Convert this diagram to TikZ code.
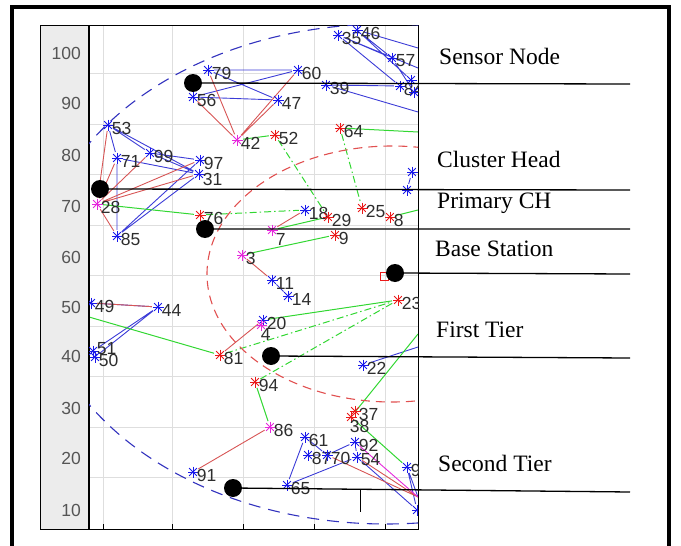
\documentclass[tikz,border=0pt]{standalone}
\usepackage{fontspec}
\setmainfont{Liberation Serif}
\setsansfont{Liberation Sans}
\usetikzlibrary{calc}
\pgfdeclarelayer{gridlayer}
\pgfdeclarelayer{links}
\pgfsetlayers{gridlayer,links,main}
\definecolor{mblue}{RGB}{25,25,235}
\definecolor{lblue}{RGB}{60,60,215}
\definecolor{mred}{RGB}{235,25,25}
\definecolor{lred}{RGB}{215,85,85}
\definecolor{mgreen}{RGB}{50,215,50}
\definecolor{mmag}{RGB}{230,40,220}
\definecolor{panelc}{RGB}{236,236,236}
\definecolor{gridc}{RGB}{222,222,222}
\definecolor{labc}{RGB}{45,45,45}
\definecolor{tickc}{RGB}{85,85,85}
\definecolor{ellred}{RGB}{225,80,80}
\definecolor{ellblue}{RGB}{50,50,190}
\tikzset{
  ast/.style={circle, inner sep=0pt, minimum size=12pt,
    path picture={\foreach \a in {0,45,90,135}{\draw[#1,line width=1pt]
      ($(path picture bounding box.center)+(\a:5.5pt)$) -- ($(path picture bounding box.center)+(\a+180:5.5pt)$);}}},
  bn/.style={ast=mblue}, rn/.style={ast=mred}, mn/.style={ast=mmag},
  lb/.style={font=\sffamily\fontsize{17.5}{17.5}\selectfont, text=labc, inner sep=0pt, xshift=-2.5pt, yshift=-3pt},
  bl/.style={lblue, line width=0.9pt},
  rl/.style={lred, line width=0.9pt},
  ml/.style={mmag, line width=0.9pt},
  gl/.style={mgreen, line width=1pt},
  gd/.style={mgreen, line width=1pt, dash pattern=on 7pt off 3pt on 1.5pt off 3pt},
  lg/.style={black, line width=1.3pt},
  bdot/.style={circle, fill=black, minimum size=18pt, inner sep=0pt},
  lt/.style={font=\fontsize{23.5}{26}\selectfont, anchor=base west, inner sep=0pt},
  tl/.style={font=\sffamily\fontsize{17.5}{17.5}\selectfont, text=tickc, anchor=east, inner sep=0pt},
}
\begin{document}
\begin{tikzpicture}[x=1pt,y=-1pt]
\useasboundingbox (0,0) rectangle (681,546);
% outer frame
\draw[line width=3.5pt] (12,546) -- (12,7) -- (669,7) -- (669,546);
% tick panel
\fill[panelc] (40,25) rectangle (89,529);
% grid
\begin{pgfonlayer}{gridlayer}
\foreach \yy in {73.5,124,174.5,225,275.5,326,376.5,427,477.5}
  \draw[gridc, line width=0.7pt] (89,\yy) -- (418,\yy);
\foreach \xx in {103,172,243,314,385}
  \draw[gridc, line width=0.7pt] (\xx,25) -- (\xx,529);
\end{pgfonlayer}
% plot frame
\draw[line width=0.8pt] (40,25) rectangle (418,529);
\draw[line width=1.2pt] (89,25) -- (89,529);
\foreach \xx in {103,172,243,314,385}
  \draw[line width=0.7pt] (\xx,529) -- (\xx,524);
% tick labels
\foreach \v/\yy in {100/53,90/103,80/155,70/206,60/257,50/307,40/356,30/408,20/458,10/510}
  \node[tl] at (81,\yy) {\v};
% ellipses
\begin{scope}
\clip (89,25) rectangle (418,529);
\draw[ellblue, line width=1.1pt, dash pattern=on 12pt off 8pt] (386,274) ellipse (348 and 250);
\draw[ellred, line width=1.1pt, dash pattern=on 9pt off 6pt] (392,274) ellipse (185 and 128);
\end{scope}
% free ends
\coordinate (e1) at (418,48);
\coordinate (e2) at (418,68);
\coordinate (e3) at (418,112);
\coordinate (e4) at (418,497);
\coordinate (e5) at (418,347);
\coordinate (e6) at (418,132);
\coordinate (e7) at (418,210);
\coordinate (e8) at (89,317);
\coordinate (e9) at (418,334);
% sensor nodes
\begin{scope}
\clip (89,25) rectangle (418,529);
\node[bn, label={[lb]0:35}] (n35) at (338,35) {};
\node[bn, label={[lb]0:46}] (n46) at (357,30) {};
\node[bn, label={[lb]0:57}] (n57) at (392,58) {};
\node[bn, label={[lb]0:39}] (n39) at (326,85) {};
\node[bn, label={[lb]0:84}] (n84) at (400,86) {};
\node[bn] (n96) at (411,80) {};
\node[bn] (nrc) at (414,92) {};
\node[bn, label={[lb]0:60}] (n60) at (298,70) {};
\node[bn, label={[lb]0:79}] (n79) at (208,70) {};
\node[bn, label={[lb]0:56}] (n56) at (193,97) {};
\node[bn, label={[lb]0:47}] (n47) at (278,100) {};
\node[bn, label={[lb]0:53}] (n53) at (108,125) {};
\node[bn, label={[lb]0:71}] (n71) at (117,158) {};
\node[bn, label={[lb]0:99}] (n99) at (150,153) {};
\node[bn, label={[lb]0:97}] (n97) at (200,160) {};
\node[bn, label={[lb, yshift=-2pt]0:31}] (n31) at (199,174) {};
\node[bn, label={[lb]0:85}] (n85) at (117,236) {};
\node[bn, label={[lb]0:18}] (n18) at (305,210) {};
\node[bn] (nra) at (412,172) {};
\node[bn] (nrb) at (407,190) {};
\node[bn, label={[lb]0:11}] (n11) at (272,280) {};
\node[bn, label={[lb]0:14}] (n14) at (288,296) {};
\node[bn, label={[lb]0:20}] (n20) at (263,320) {};
\node[bn, label={[lb]0:49}] (n49) at (91,303) {};
\node[bn, label={[lb]0:44}] (n44) at (158,307) {};
\node[bn, label={[lb, yshift=5pt]0:51}] (n51) at (93,351) {};
\node[bn, label={[lb]0:50}] (n50) at (95,357) {};
\node[bn, label={[lb]0:22}] (n22) at (363,365) {};
\node[bn, label={[lb]0:61}] (n61) at (305,437) {};
\node[bn, label={[lb]0:92}] (n92) at (355,442) {};
\node[bn, label={[lb]0:87}] (n87) at (308,455) {};
\node[bn, label={[lb]0:70}] (n70) at (327,455) {};
\node[bn, label={[lb]0:54}] (n54) at (357,457) {};
\node[bn, label={[lb]0:65}] (n65) at (287,485) {};
\node[bn, label={[lb]0:91}] (n91) at (193,472) {};
\node[bn, label={[lb]0:9}] (n9b) at (407,467) {};
\node[bn] (ncs) at (417,510) {};
% cluster heads
\node[rn, label={[lb]0:52}] (n52) at (275,135) {};
\node[rn, label={[lb]0:64}] (n64) at (340,128) {};
\node[rn, label={[lb]0:76}] (n76) at (200,215) {};
\node[rn, label={[lb]0:29}] (n29) at (328,217) {};
\node[rn, label={[lb]0:25}] (n25) at (362,208) {};
\node[rn, label={[lb]0:8}] (n8) at (390,217) {};
\node[rn, label={[lb]0:9}] (n9) at (335,235) {};
\node[rn, label={[lb]0:23}] (n23) at (398,300) {};
\node[rn, label={[lb]0:81}] (n81) at (220,355) {};
\node[rn, label={[lb]0:94}] (n94) at (255,382) {};
\node[rn, label={[lb]0:37}] (n37) at (355,411) {};
\node[rn, label={[lb, yshift=-6pt, xshift=-5pt]0:38}] (n38) at (351,417) {};
% primary cluster heads
\node[mn, label={[lb]0:42}] (n42) at (237,140) {};
\node[mn, label={[lb]0:28}] (n28) at (97,204) {};
\node[mn, label={[lb, yshift=-6pt]0:7}] (n7) at (272,230) {};
\node[mn, label={[lb]0:3}] (n3) at (242,255) {};
\node[mn, label={[lb]0:86}] (n86) at (270,427) {};
\node[mn, label={[lb, yshift=-6pt, xshift=-4pt]0:4}] (n4) at (261,325) {};
% base station
\node[draw=mred, minimum size=8pt, inner sep=0pt, line width=0.9pt] (bs) at (384,276) {};
\end{scope}
% links
\begin{pgfonlayer}{links}
\begin{scope}
\clip (89,25) rectangle (418,529);
\draw[bl] (n53)--(n71) (n53)--(n99) (n53)--(n31) (n71)--(n85) (n71)--(n31)
  (n99)--(n97) (n99)--(n31) (n85)--(n97) (n85)--(n31)
  (n79)--(n60) (n56)--(n60) (n79)--(n47) (n56)--(n47)
  (n35)--(n57) (n46)--(n57) (n35)--(n84) (n46)--(n96) (n46)--(e1) (n35)--(e2)
  (n57)--(nrc) (n39)--(n84) (n39)--(e3)
  (nra)--(nrb) (n11)--(n14) (n49)--(n44) (n44)--(n51) (n44)--(n50) (n22)--(e5)
  (n61)--(n65) (n61)--(n70) (n87)--(n70) (n70)--(n92) (n65)--(n54) (n92)--(n54)
  (n9b)--(ncs) (n54)--(ncs) (n9b)--(e4);
\draw[rl] (n28)--(n53) (n28)--(n71) (n28)--(n99) (n28)--(n97) (n28)--(n31) (n28)--(n85)
  (n56)--(n42) (n79)--(n42) (n42)--(n47) (n42)--(n60) (n7)--(n18) (n3)--(n11)
  (n86)--(n91) (n81)--(n20) (n49)--(n44) (n70)--(e4) (n54)--(e4);
\draw[ml] (n92)--(e4);
\draw[gl] (n28)--(n76) (n42)--(n52) (n64)--(e6) (n8)--(e7) (n7)--(n29) (n3)--(n9)
  (n20)--(n23) (e8)--(n81) (n94)--(n86) (n38)--(e9) (n38)--(n9b);
\draw[gd] (n76)--(n18) (n52)--(n29) (n64)--(n25) (n81)--(n23) (n94)--(n23);
\end{scope}
\end{pgfonlayer}
% legend pointers
\node[bdot] (d1) at (193,83) {};
\node[bdot] (d2) at (100,189) {};
\node[bdot] (d3) at (205,229) {};
\node[bdot] (d4) at (395,273) {};
\node[bdot] (d5) at (271,356) {};
\node[bdot] (d6) at (233,488) {};
\coordinate (t1) at (630,84);
\coordinate (t2) at (630,190);
\coordinate (t3) at (630,229);
\coordinate (t4) at (630,274);
\coordinate (t5) at (630,358);
\coordinate (t6) at (630,492);
\draw[lg] (d1)--(t1) (d2)--(t2) (d3)--(t3) (d4)--(t4) (d5)--(t5) (d6)--(t6);
\coordinate (k1) at (360,490);
\coordinate (k2) at (360,512);
\draw[lg, line width=1pt] (k1)--(k2);
% legend texts
\node[lt] (l1) at (439,64) {Sensor Node};
\node[lt] (l2) at (437,167) {Cluster Head};
\node[lt] (l3) at (437,208) {Primary CH};
\node[lt] (l4) at (435,256) {Base Station};
\node[lt] (l5) at (436,337) {First Tier};
\node[lt] (l6) at (438,471) {Second Tier};
\end{tikzpicture}
\end{document}
